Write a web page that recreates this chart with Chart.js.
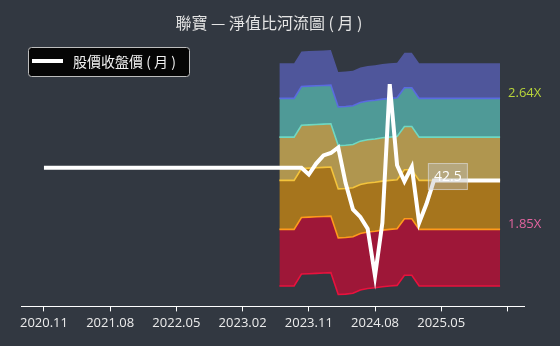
<!DOCTYPE html>
<html>
<head>
<meta charset="utf-8">
<script src="https://cdn.jsdelivr.net/npm/chart.js@4"></script>
<style>
  html, body { margin: 0; padding: 0; background: #323841; }
  #wrap { width: 560px; height: 346px; }
</style>
</head>
<body>
<div id="wrap"><canvas id="river"></canvas></div>
<script>
// 聯寶 淨值比河流圖 (月)
const titleText = '聯寶 — 淨值比河流圖 ( 月 )';
const legendText = '股價收盤價 ( 月 )';

const tickMonths = ['2020.11', '2021.08', '2022.05', '2023.02', '2023.11', '2024.08', '2025.05', '2026.02'];
const tickLabels = ['2020.11', '2021.08', '2022.05', '2023.02', '2023.11', '2024.08', '2025.05', ''];

// 股價收盤價
const priceMonths = ['2020.11', '2023.10', '2023.11', '2023.12', '2024.01', '2024.02', '2024.03', '2024.04',
  '2024.05', '2024.06', '2024.07', '2024.08', '2024.09', '2024.10', '2024.11', '2024.12', '2025.01',
  '2025.02', '2025.03', '2025.04', '2026.01'];
const priceValues = [44.0, 44.0, 43.2, 44.5, 45.5, 45.8, 46.5, 42.2, 39.3, 38.5, 37.3, 32.8, 37.9,
  55.2, 44.3, 42.4, 44.1, 37.9, 39.9, 42.5, 42.5];
const lastPriceMonth = '2025.04';

// 每股淨值
const bvpsMonths = ['2023.07', '2023.08', '2023.09', '2023.10', '2023.11', '2023.12', '2024.01', '2024.02',
  '2024.03', '2024.04', '2024.05', '2024.06', '2024.07', '2024.08', '2024.09', '2024.10', '2024.11',
  '2024.12', '2025.01', '2025.02', '2026.01'];
const bvpsValues = [20.12, 20.12, 20.12, 20.78, 20.80, 20.82, 20.84, 20.86, 19.66, 19.68, 19.72, 19.90,
  19.98, 20.02, 20.08, 20.12, 20.15, 20.71, 20.71, 20.12, 20.12];

// 淨值比倍數 (上到下)
const multiples = [2.9033, 2.64, 2.3767, 2.1133, 1.85, 1.5867];
const multipleLabels = ['', '2.64X', '', '', '1.85X', ''];
const labelColors = ['', '#b9d63a', '', '', '#e2649f', ''];

const fillColors = ['#4f569b', '#4f9a97', '#b0964f', '#a6751d', '#9e1738'];
const lineColors = ['#5560a8', '#5a6be0', '#6fd8c2', '#f4c43c', '#ff9a1c', '#e8123d'];

function monthIndex(s) {
  const [yy, mm] = s.split('.').map(Number);
  return (yy - 2020) * 12 + mm - 11;
}

const FONT = "'Open Sans', 'Noto Sans CJK TC', sans-serif";
const CJK = "'Noto Sans CJK TC', sans-serif";

const bandSets = multiples.map((mult, i) => ({
  data: bvpsMonths.map((m, j) => ({ x: monthIndex(m), y: bvpsValues[j] * mult })),
  borderColor: lineColors[i],
  borderWidth: i === 0 ? 0 : 1.6,
  backgroundColor: i === 0 ? 'transparent' : fillColors[i - 1],
  fill: i === 0 ? false : '-1',
  pointRadius: 0,
  tension: 0
}));

const overlay = {
  id: 'overlay',
  beforeDraw(chart) {
    const ctx = chart.ctx;
    ctx.save();
    ctx.fillStyle = '#323841';
    ctx.fillRect(0, 0, chart.width, chart.height);
    ctx.restore();
  },
  afterDraw(chart) {
    const { ctx, scales: { x, y } } = chart;
    ctx.save();

    // title
    ctx.fillStyle = '#e4e4e4';
    ctx.font = '16px ' + CJK;
    ctx.textAlign = 'center';
    ctx.textBaseline = 'middle';
    ctx.fillText(titleText, 269, 23);

    // legend
    ctx.beginPath();
    ctx.roundRect(28.5, 47.5, 161, 29, 3);
    ctx.fillStyle = '#050505';
    ctx.fill();
    ctx.strokeStyle = '#bdbdbd';
    ctx.lineWidth = 1;
    ctx.stroke();
    ctx.beginPath();
    ctx.moveTo(32, 61);
    ctx.lineTo(63, 61);
    ctx.strokeStyle = '#ffffff';
    ctx.lineWidth = 4;
    ctx.stroke();
    ctx.fillStyle = '#f0f0f0';
    ctx.font = '14px ' + CJK;
    ctx.textAlign = 'left';
    ctx.fillText(legendText, 73, 62);

    // right labels
    const lastX = x.getPixelForValue(monthIndex(bvpsMonths[bvpsMonths.length - 1]));
    const lastB = bvpsValues[bvpsValues.length - 1];
    ctx.font = '13px ' + FONT;
    multiples.forEach((mult, i) => {
      if (!multipleLabels[i]) return;
      ctx.fillStyle = labelColors[i];
      ctx.fillText(multipleLabels[i], lastX + 8, y.getPixelForValue(lastB * mult) - 5);
    });

    // last price box
    const pi = priceMonths.indexOf(lastPriceMonth);
    const px = x.getPixelForValue(monthIndex(lastPriceMonth));
    const py = y.getPixelForValue(priceValues[pi]);
    ctx.fillStyle = 'rgba(190,190,190,0.42)';
    ctx.fillRect(px - 5.5, py - 17, 39, 26);
    ctx.strokeStyle = 'rgba(225,225,225,0.65)';
    ctx.lineWidth = 1;
    ctx.strokeRect(px - 5.5, py - 17, 39, 26);
    ctx.fillStyle = '#ffffff';
    ctx.textAlign = 'center';
    ctx.font = '14px ' + FONT;
    ctx.fillText(priceValues[pi].toFixed(1), px + 14, py - 4);

    ctx.restore();
  }
};

new Chart(document.getElementById('river'), {
  type: 'line',
  data: {
    datasets: [{
      data: priceMonths.map((m, j) => ({ x: monthIndex(m), y: priceValues[j] })),
      borderColor: '#ffffff',
      borderWidth: 4,
      pointRadius: 0,
      fill: false,
      tension: 0
    }, ...bandSets]
  },
  options: {
    responsive: true,
    maintainAspectRatio: false,
    animation: false,
    layout: { padding: { top: 40, left: 21, right: 36, bottom: 11 } },
    plugins: {
      legend: { display: false },
      title: { display: false },
      tooltip: { enabled: false }
    },
    scales: {
      x: {
        type: 'linear',
        min: -3.12,
        max: 65.25,
        afterBuildTicks(scale) {
          scale.ticks = tickMonths.map(m => ({ value: monthIndex(m) }));
        },
        ticks: {
          color: '#ececec',
          font: { family: FONT, size: 13 },
          padding: 4,
          maxRotation: 0,
          autoSkip: false,
          callback: (v, i) => tickLabels[i]
        },
        grid: { drawOnChartArea: false, drawTicks: true, tickLength: 5, color: '#ffffff' },
        border: { color: '#ffffff', width: 1 }
      },
      y: {
        type: 'logarithmic',
        display: false,
        bounds: 'data',
        min: 30.2,
        max: 62.24
      }
    }
  },
  plugins: [overlay]
});
</script>
</body>
</html>
